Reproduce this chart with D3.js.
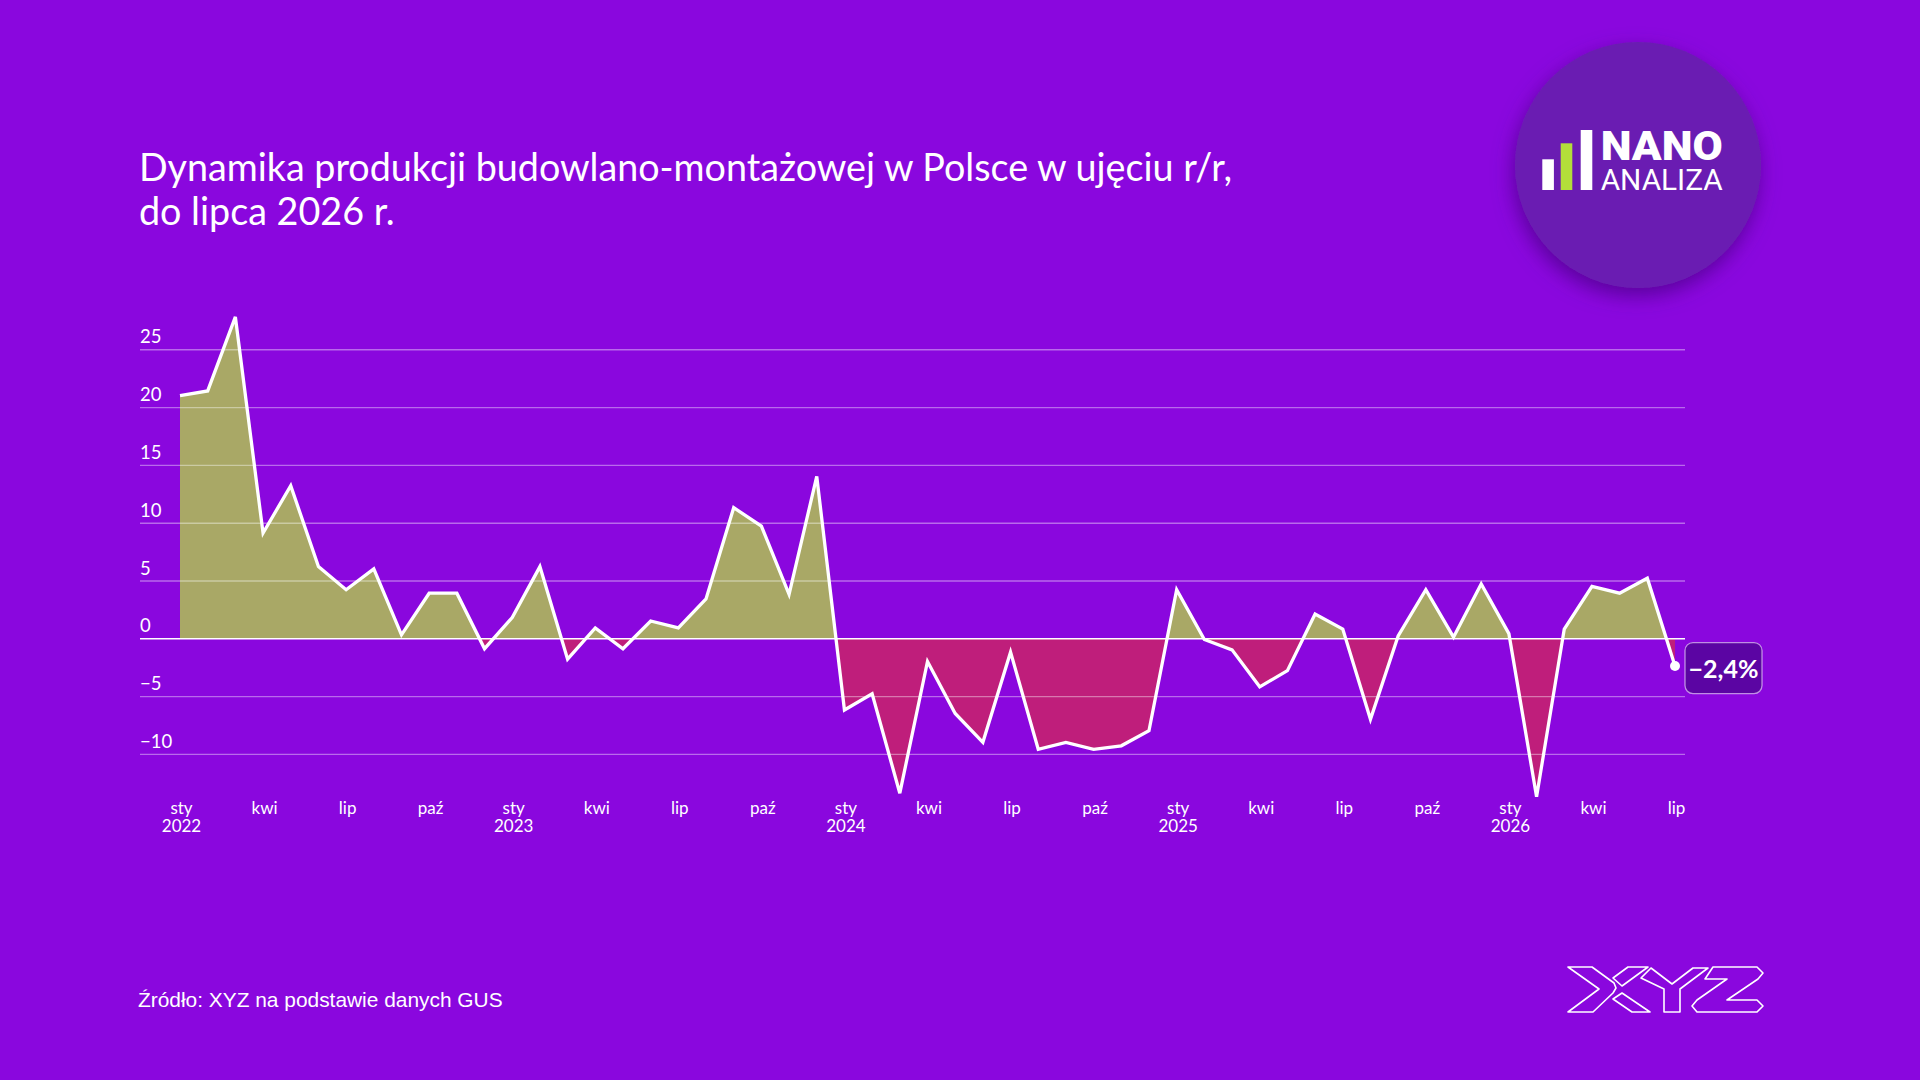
<!DOCTYPE html>
<html>
<head>
<meta charset="utf-8">
<script src="https://cdn.jsdelivr.net/npm/d3@7"></script>
<style>
  html, body { margin: 0; padding: 0; background: #8a07de; }
  svg { display: block; }
</style>
</head>
<body>
<div id="chart"></div>
<script>
var svgWidth = 1920;
var svgHeight = 1080;

// month names used for categories and axis
var monthNames = ["sty", "lut", "mar", "kwi", "maj", "cze", "lip", "sie", "wrz", "paź", "lis", "gru"];
var startYear = 2022;

// y/y change of construction output, sty 2022 .. lip 2026
var values = [
  21.0, 21.4, 27.8, 9.1, 13.2, 6.2, 4.2, 6.0, 0.3, 3.9, 3.9, -0.9,
  1.8, 6.2, -1.8, 0.9, -0.9, 1.5, 0.9, 3.4, 11.3, 9.7, 3.8, 14.0,
  -6.2, -4.8, -13.4, -2.0, -6.5, -9.0, -1.2, -9.6, -9.0, -9.6, -9.3, -8.0,
  4.2, -0.1, -1.0, -4.2, -2.8, 2.1, 0.8, -7.0, 0.2, 4.2, 0.1, 4.7,
  0.4, -13.7, 0.8, 4.5, 3.9, 5.2, -2.4
];

var yTicks = [-10, -5, 0, 5, 10, 15, 20, 25];
var xTickMonths = ["sty", "kwi", "lip", "paź"];

var titleLines = [
  "Dynamika produkcji budowlano-montażowej w Polsce w ujęciu r/r,",
  "do lipca 2026 r."
];
var sourceText = "Źródło: XYZ na podstawie danych GUS";

var categories = values.map(function(v, i) {
  return monthNames[i % 12] + " " + (startYear + Math.floor(i / 12));
});
var data = values.map(function(v, i) { return { key: categories[i], value: v }; });

var svg = d3.select("#chart")
  .append("svg")
  .attr("width", svgWidth)
  .attr("height", svgHeight);

svg.append("rect")
  .attr("width", svgWidth)
  .attr("height", svgHeight)
  .attr("fill", "#8a07de");

var defs = svg.append("defs");

// scales
var xScale = d3.scalePoint()
  .domain(categories)
  .range([180, 1675]);

var yScale = d3.scaleLinear()
  .domain([-10, 25])
  .range([753.9, 349.3]);

var y0 = yScale(0);

// clip regions above / below zero
defs.append("clipPath").attr("id", "clipPos")
  .append("rect")
  .attr("x", 0).attr("y", 0)
  .attr("width", svgWidth).attr("height", y0);

defs.append("clipPath").attr("id", "clipNeg")
  .append("rect")
  .attr("x", 0).attr("y", y0)
  .attr("width", svgWidth).attr("height", svgHeight - y0);

var area = d3.area()
  .x(d => xScale(d.key))
  .y0(y0)
  .y1(d => yScale(d.value));

var line = d3.line()
  .x(d => xScale(d.key))
  .y(d => yScale(d.value));

svg.append("path")
  .datum(data)
  .attr("clip-path", "url(#clipPos)")
  .attr("fill", "#a9a866")
  .attr("d", area);

svg.append("path")
  .datum(data)
  .attr("clip-path", "url(#clipNeg)")
  .attr("fill", "#bf1e7b")
  .attr("d", area);

// y axis with gridlines
var yAxis = svg.append("g")
  .attr("transform", "translate(140,0)")
  .call(d3.axisRight(yScale)
    .tickValues(yTicks)
    .tickSize(1545)
    .tickFormat(d3.format("d")));

yAxis.select(".domain").remove();
yAxis.selectAll(".tick line")
  .attr("stroke", d => d === 0 ? "#ffffff" : "rgba(255,255,255,0.4)")
  .attr("stroke-width", d => d === 0 ? 1.6 : 1.4);
yAxis.selectAll(".tick text")
  .attr("x", 0)
  .attr("dy", -6.5)
  .attr("text-anchor", "start")
  .attr("fill", "#ffffff")
  .style("font-family", "Lato, sans-serif")
  .style("font-size", "18.5px");

// x axis labels
var xTicks = categories.filter(c => xTickMonths.indexOf(c.split(" ")[0]) >= 0);

var xAxis = svg.append("g")
  .attr("transform", "translate(1,814)")
  .call(d3.axisBottom(xScale)
    .tickValues(xTicks)
    .tickSize(0)
    .tickFormat(d => d.split(" ")[0]));

xAxis.select(".domain").remove();
xAxis.selectAll(".tick text")
  .attr("y", 0)
  .attr("dy", 0)
  .attr("fill", "#ffffff")
  .style("font-family", "Lato, sans-serif")
  .style("font-size", "17px")
  .each(function(d) {
    if (d.split(" ")[0] === "sty") {
      d3.select(this).append("tspan")
        .attr("x", 0)
        .attr("dy", 17.5)
        .text(d.split(" ")[1]);
    }
  });

// line
svg.append("path")
  .datum(data)
  .attr("fill", "none")
  .attr("stroke", "#ffffff")
  .attr("stroke-width", 3.3)
  .attr("d", line);

// last value marker and label
var last = data[data.length - 1];
var lx = xScale(last.key);
var ly = yScale(last.value);

svg.append("circle")
  .attr("cx", lx)
  .attr("cy", ly)
  .attr("r", 5)
  .attr("fill", "#ffffff");

svg.append("rect")
  .attr("x", lx + 10)
  .attr("y", ly - 23.5)
  .attr("width", 77)
  .attr("height", 51)
  .attr("rx", 8)
  .attr("fill", "#5b05a3")
  .attr("stroke", "rgba(255,255,255,0.55)")
  .attr("stroke-width", 1.3);

svg.append("text")
  .attr("x", lx + 48.5)
  .attr("y", ly + 12)
  .attr("text-anchor", "middle")
  .attr("fill", "#ffffff")
  .style("font-family", "Lato, sans-serif")
  .style("font-size", "25px")
  .style("font-weight", "bold")
  .text(d3.format(".1f")(last.value).replace(".", ",") + "%");

// title
svg.append("text")
  .attr("x", 139)
  .attr("y", 181)
  .attr("fill", "#ffffff")
  .style("font-family", "Lato, sans-serif")
  .style("font-size", "37.7px")
  .selectAll("tspan")
  .data(titleLines)
  .enter()
  .append("tspan")
  .attr("x", 139)
  .attr("dy", (d, i) => i === 0 ? 0 : 44.3)
  .text(d => d);

// source
svg.append("text")
  .attr("x", 138)
  .attr("y", 1007)
  .attr("fill", "#ffffff")
  .style("font-family", "'Liberation Sans', Arial, sans-serif")
  .style("font-size", "20.9px")
  .text(sourceText);

// NANO ANALIZA badge
var shadow = defs.append("filter")
  .attr("id", "badgeShadow")
  .attr("x", "-30%").attr("y", "-30%")
  .attr("width", "160%").attr("height", "160%");
shadow.append("feDropShadow")
  .attr("dx", -2)
  .attr("dy", 8)
  .attr("stdDeviation", 10)
  .attr("flood-color", "#4a0087")
  .attr("flood-opacity", 0.75);

var badge = svg.append("g");
badge.append("circle")
  .attr("cx", 1638)
  .attr("cy", 165)
  .attr("r", 123)
  .attr("fill", "#6b1eb2")
  .attr("filter", "url(#badgeShadow)");

var bars = [
  { x: 1542.3, top: 159.3, color: "#ffffff" },
  { x: 1560.7, top: 143.3, color: "#b3de3a" },
  { x: 1580.7, top: 130, color: "#ffffff" }
];
badge.selectAll("rect.bar")
  .data(bars)
  .enter()
  .append("rect")
  .attr("class", "bar")
  .attr("x", d => d.x)
  .attr("y", d => d.top)
  .attr("width", 11.6)
  .attr("height", d => 190 - d.top)
  .attr("fill", d => d.color);

badge.append("text")
  .attr("x", 1600.7)
  .attr("y", 160)
  .attr("textLength", 122)
  .attr("lengthAdjust", "spacingAndGlyphs")
  .attr("fill", "#ffffff")
  .style("font-family", "Roboto, sans-serif")
  .style("font-size", "40px")
  .style("font-weight", "900")
  .text("NANO");

badge.append("text")
  .attr("x", 1600.7)
  .attr("y", 190)
  .attr("textLength", 122)
  .attr("lengthAdjust", "spacingAndGlyphs")
  .attr("fill", "#ffffff")
  .style("font-family", "Roboto, sans-serif")
  .style("font-size", "29px")
  .text("ANALIZA");

// XYZ outline logo
var xyzShapes = [
  [[1568,967],[1592,967],[1614,983],[1616,988],[1613,993],[1593,1012],[1568,1012],[1599,989]],
  [[1613,978],[1628,967],[1648,967],[1622,986]],
  [[1613,999],[1622,993],[1650,1012],[1632,1012]],
  [[1641,978],[1651,968],[1672,984],[1693,968],[1708,968],[1680,989],[1680,1012],[1664,1012],[1664,989]],
  [[1713,967],[1757,967],[1763,973],[1758,979],[1727,1000],[1757,1000],[1763,1006],[1757,1012],[1697,1012],[1692,1006],[1697,1000],[1727,979],[1705,979]]
];
svg.append("g")
  .selectAll("path")
  .data(xyzShapes)
  .enter()
  .append("path")
  .attr("d", d => "M" + d.join("L") + "Z")
  .attr("fill", "none")
  .attr("stroke", "#ffffff")
  .attr("stroke-width", 1.6)
  .attr("stroke-linejoin", "round");
</script>
</body>
</html>
